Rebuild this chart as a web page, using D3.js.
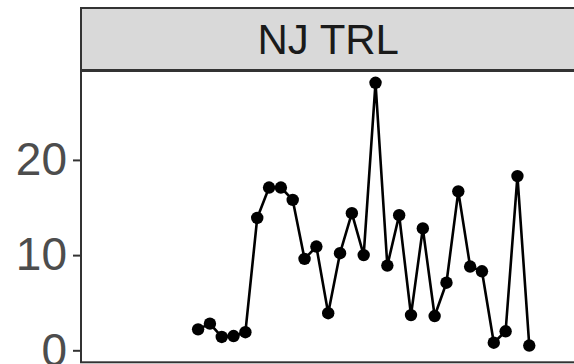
<!DOCTYPE html>
<html>
<head>
<meta charset="utf-8">
<script src="https://cdn.jsdelivr.net/npm/d3@7"></script>
<style>
  html, body { margin: 0; padding: 0; background: #fff; overflow: hidden; }
  svg { display: block; font-family: "Liberation Sans", Arial, sans-serif; }
</style>
</head>
<body>
<div id="chart"></div>
<script>
// facet label and series (one value per year)
const facetLabel = "NJ TRL";
const years = d3.range(1990, 2019);
const values = [2.2, 2.8, 1.4, 1.5, 1.9, 13.9, 17.1, 17.1, 15.8, 9.6,
                10.9, 3.9, 10.2, 14.4, 10.0, 28.1, 8.9, 14.2, 3.7, 12.8,
                3.6, 7.1, 16.7, 8.8, 8.3, 0.8, 2.0, 18.3, 0.5];
const yTicks = [0, 10, 20];

const width = 574, height = 364;
const panel = {left: 81, right: 575.4, top: 71, bottom: 362.3};
const strip = {top: 8, bottom: 70};

const data = years.map((y, i) => ({year: y, value: values[i]}));

const svg = d3.select("#chart").append("svg")
    .attr("width", width)
    .attr("height", height);

const x = d3.scaleLinear()
    .domain([1980.1, 2021.9])
    .range([panel.left, panel.right]);

const y = d3.scaleLinear()
    .domain([-1.26, 29.34])
    .range([panel.bottom, panel.top]);

// strip
svg.append("rect")
    .attr("x", panel.left)
    .attr("y", strip.top)
    .attr("width", panel.right - panel.left)
    .attr("height", strip.bottom - strip.top)
    .attr("fill", "#d9d9d9")
    .attr("stroke", "#333")
    .attr("stroke-width", 2);

svg.append("text")
    .attr("x", (panel.left + panel.right) / 2)
    .attr("y", (strip.top + strip.bottom) / 2)
    .attr("dy", "0.36em")
    .attr("text-anchor", "middle")
    .attr("font-size", 42)
    .attr("fill", "#1a1a1a")
    .text(facetLabel);

// y axis
const yAxis = svg.append("g")
    .attr("transform", `translate(${panel.left},0)`)
    .call(d3.axisLeft(y).tickValues(yTicks).tickSize(8).tickPadding(6));
yAxis.select(".domain").remove();
yAxis.selectAll(".tick line").attr("stroke", "#333").attr("stroke-width", 2);
yAxis.selectAll(".tick text")
    .attr("font-size", 46)
    .attr("fill", "#4d4d4d")
    .attr("font-family", "'Liberation Sans', Arial, sans-serif");

// series
const line = d3.line()
    .x(d => x(d.year))
    .y(d => y(d.value));

svg.append("path")
    .datum(data)
    .attr("fill", "none")
    .attr("stroke", "#000")
    .attr("stroke-width", 2.6)
    .attr("stroke-linejoin", "round")
    .attr("d", line);

svg.append("g")
  .selectAll("circle")
  .data(data)
  .join("circle")
    .attr("cx", d => x(d.year))
    .attr("cy", d => y(d.value))
    .attr("r", 6.2)
    .attr("fill", "#000");

// panel border
svg.append("rect")
    .attr("x", panel.left)
    .attr("y", panel.top)
    .attr("width", panel.right - panel.left)
    .attr("height", panel.bottom - panel.top)
    .attr("fill", "none")
    .attr("stroke", "#333")
    .attr("stroke-width", 2);
</script>
</body>
</html>
